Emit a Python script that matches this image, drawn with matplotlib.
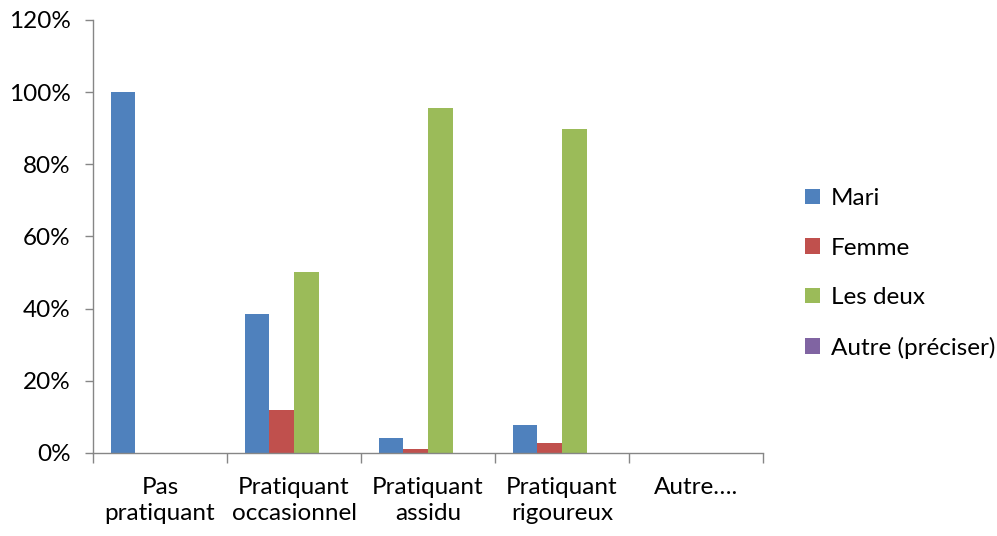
import numpy as np
import matplotlib
matplotlib.use("Agg")
import matplotlib.pyplot as plt
from matplotlib.ticker import PercentFormatter, FixedLocator

categories = ["Pas\npratiquant", "Pratiquant\noccasionnel", "Pratiquant\nassidu",
              "Pratiquant\nrigoureux", "Autre…."]
series = ["Mari", "Femme", "Les deux", "Autre (préciser)"]
mari = [100, 38.5, 4, 7.7, 0]
femme = [0, 11.8, 1, 2.8, 0]
les_deux = [0, 50, 95.5, 89.8, 0]
autre = [0, 0, 0, 0, 0]
colors = ["#4F81BD", "#C0504D", "#9BBB59", "#8064A2"]

plt.rcParams['font.family'] = ['Lato', 'DejaVu Sans']
fs = 17.5

fig = plt.figure(figsize=(9.97, 5.36), dpi=100)
ax = fig.add_axes([0.0933, 0.155, 0.672, 0.808])

x = np.arange(len(categories))
w = 0.183
for i, (vals, name) in enumerate(zip([mari, femme, les_deux, autre], series)):
    ax.bar(x + (i - 1.5) * w, vals, w, color=colors[i], label=name)

ax.set_xlim(-0.5, len(categories) - 0.5)
ax.set_ylim(0, 120)
ax.set_yticks(np.arange(0, 121, 20))
ax.yaxis.set_major_formatter(PercentFormatter(decimals=0))

ax.xaxis.set_major_locator(FixedLocator(np.arange(-0.5, len(categories), 1)))
ax.set_xticklabels([])
ax.set_xticks(x, minor=True)
ax.set_xticklabels(categories, minor=True, fontsize=fs, linespacing=1.3)
ax.tick_params(axis='x', which='minor', length=0, pad=17)
ax.tick_params(axis='x', which='major', length=7, color='#868686', width=1)
ax.tick_params(axis='y', length=6, color='#868686', width=1, labelsize=fs, pad=10)

for s in ['top', 'right']:
    ax.spines[s].set_visible(False)
for s in ['left', 'bottom']:
    ax.spines[s].set_color('#868686')
    ax.spines[s].set_linewidth(1)

ax.legend(loc='center left', bbox_to_anchor=(0.798, 0.49), bbox_transform=fig.transFigure,
          frameon=False, fontsize=fs, handlelength=0.6, handleheight=0.6, handletextpad=0.45,
          labelspacing=1.17, borderaxespad=0)

fig.savefig("out.png", dpi=100)
